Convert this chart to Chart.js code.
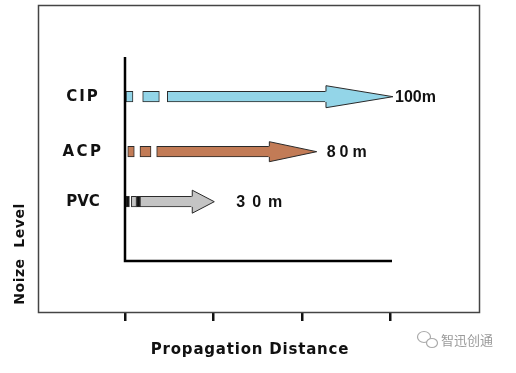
<!DOCTYPE html>
<html><head><meta charset="utf-8">
<script src="https://cdn.jsdelivr.net/npm/chart.js@4/dist/chart.umd.min.js"></script>
<style>html,body{margin:0;padding:0;background:#fff}#wrap{width:516px;height:373px;position:relative}</style>
</head><body><div id="wrap"><canvas id="c"></canvas></div>
<script>
// ---- data (x in distance units, y in noise-level units) ----
const categories = ['CIP', 'ACP', 'PVC'];
const noiseLevel = [3.1, 2, 1];
const distanceLabels = ['100m', '80m', '30m'];
const cipSegments = [[0.01, 0.09], [0.2, 0.388], [0.478, 2.271]];
const acpSegments = [[0.031, 0.105], [0.169, 0.294], [0.358, 1.631]];
const pvcSegments = [[0.0, 0.05], [0.072, 0.13], [0.13, 0.17], [0.17, 0.76]];
const arrowTips = [3.028, 2.166, 1.009];
const xTicks = [0, 1, 2, 3];
const axisLine = [{x: 0, y: 3.894}, {x: 0, y: -0.186}, {x: 3.017, y: -0.186}];

// ---- styles ----
const fillCIP = '#93D5E8', fillACP = '#C27B56', fillPVC = '#C4C4C4';
const edge = '#2a2a2a';
const barThick = 10.5;
const headHalf = [11, 10, 11.5];
const labelGap = [2, 10, 22];
const labelFont = 'bold 16px "Liberation Sans", Arial, sans-serif';
const titleFont = 'bold 15px "DejaVu Sans", sans-serif';

const segSets = [cipSegments, acpSegments, pvcSegments];

function barDataset(i, colors) {
  const segs = segSets[i];
  return {
    label: categories[i],
    data: segs.map(s => ({x: s, y: noiseLevel[i]})),
    backgroundColor: colors,
    borderColor: edge,
    borderWidth: 1,
    borderSkipped: ctx => ctx.dataIndex === segs.length - 1 ? 'right' : false,
    barThickness: barThick,
    grouped: false,
    order: 1
  };
}

const decor = {
  id: 'decor',
  beforeDraw(chart) {
    const c = chart.ctx;
    c.save(); c.fillStyle = '#fff'; c.fillRect(0, 0, chart.width, chart.height); c.restore();
  },
  afterDatasetsDraw(chart) {
    const c = chart.ctx, x = chart.scales.x, y = chart.scales.y;
    const fills = [fillCIP, fillACP, fillPVC];
    c.save();
    // arrow heads
    for (let i = 0; i < 3; i++) {
      const segs = segSets[i];
      const base = x.getPixelForValue(segs[segs.length - 1][1]);
      const tip = x.getPixelForValue(arrowTips[i]);
      const yc = y.getPixelForValue(noiseLevel[i]);
      const bh = barThick / 2, hh = headHalf[i];
      c.beginPath();
      c.moveTo(base - 1, yc - bh);
      c.lineTo(base, yc - bh);
      c.lineTo(base, yc - hh);
      c.lineTo(tip, yc);
      c.lineTo(base, yc + hh);
      c.lineTo(base, yc + bh);
      c.lineTo(base - 1, yc + bh);
      c.closePath();
      c.fillStyle = fills[i];
      c.fill();
      c.beginPath();
      c.moveTo(base, yc - bh);
      c.lineTo(base, yc - hh);
      c.lineTo(tip, yc);
      c.lineTo(base, yc + hh);
      c.lineTo(base, yc + bh);
      c.strokeStyle = edge; c.lineWidth = 1; c.stroke();
    }
    // category labels and distance labels
    c.fillStyle = '#111';
    c.textBaseline = 'middle';
    for (let i = 0; i < 3; i++) {
      const yc = y.getPixelForValue(noiseLevel[i]);
      c.font = titleFont;
      c.letterSpacing = ['2px', '2.5px', '0px'][i];
      c.textAlign = 'center';
      c.fillText(categories[i], 83, yc + 0.5);
      c.font = labelFont;
      c.textAlign = 'left';
      c.letterSpacing = ['0px', '4px', '7px'][i];
      c.fillText(distanceLabels[i], x.getPixelForValue(arrowTips[i]) + labelGap[i], yc + 0.5);
    }
    c.restore();
  },
  afterDraw(chart) {
    const c = chart.ctx, a = chart.chartArea;
    c.save();
    // outer frame
    c.strokeStyle = '#444'; c.lineWidth = 1.5;
    c.strokeRect(a.left + 0.5, a.top + 0.5, a.right - a.left, a.bottom - a.top);
    // axis titles
    c.fillStyle = '#111';
    c.font = titleFont;
    c.textAlign = 'center'; c.textBaseline = 'middle';
    c.letterSpacing = '0.8px';
    c.fillText('Propagation Distance', 250, 350);
    c.save();
    c.translate(20.5, 254); c.rotate(-Math.PI / 2);
    c.font = 'bold 14px "DejaVu Sans", sans-serif';
    c.letterSpacing = '0.5px';
    c.fillText('Noize  Level', 0, 0);
    c.restore();
    // watermark
    c.letterSpacing = '0px';
    c.font = '13px "Noto Sans CJK SC", sans-serif';
    c.fillStyle = '#9a9a9a';
    c.textAlign = 'left';
    c.fillText('智迅创通', 441, 340);
    c.strokeStyle = '#aaa'; c.lineWidth = 1.2;
    c.beginPath(); c.ellipse(424, 337, 6.5, 5.5, 0, 0, Math.PI * 2); c.stroke();
    c.beginPath(); c.ellipse(432, 343, 5.5, 4.5, 0, 0, Math.PI * 2); c.fillStyle = '#fff'; c.fill(); c.stroke();
    c.restore();
  }
};

new Chart(document.getElementById('c'), {
  type: 'bar',
  data: {
    datasets: [
      {type: 'line', indexAxis: 'x', data: axisLine, borderColor: '#000', borderWidth: 2.5,
       pointRadius: 0, fill: false, tension: 0, order: 0, borderJoinStyle: 'miter'},
      barDataset(0, fillCIP),
      barDataset(1, fillACP),
      barDataset(2, ['#111', fillPVC, '#111', fillPVC])
    ]
  },
  options: {
    indexAxis: 'y',
    responsive: true,
    maintainAspectRatio: false,
    animation: false,
    events: [],
    layout: {padding: {left: 38, top: 5, right: 37, bottom: 0}},
    plugins: {legend: {display: false}, tooltip: {enabled: false}, title: {display: false}},
    scales: {
      x: {
        type: 'linear', min: -0.983, max: 4.0, position: 'bottom', offset: false,
        afterBuildTicks: s => { s.ticks = xTicks.map(v => ({value: v})); },
        afterFit: s => { s.height = 61; },
        ticks: {display: false},
        grid: {drawOnChartArea: false, drawTicks: true, tickLength: 9, color: '#111', lineWidth: 2.5, offset: false},
        border: {display: false}
      },
      y: {
        type: 'linear', min: -1.206, max: 4.934, display: false, offset: false
      }
    }
  },
  plugins: [decor]
});
</script>
</body></html>
